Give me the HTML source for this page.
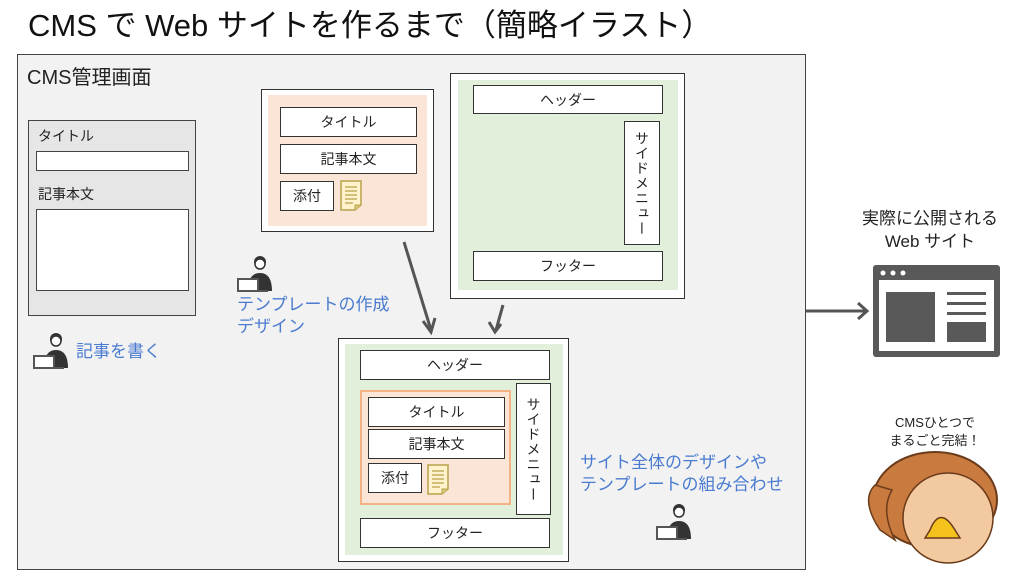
<!DOCTYPE html>
<html><head><meta charset="utf-8"><style>
*{margin:0;padding:0;box-sizing:border-box}
body{width:1022px;height:575px;background:#fff;position:relative;overflow:hidden;font-family:"Liberation Sans","Noto Sans CJK JP",sans-serif;color:#222}
.a{position:absolute}
.b{position:absolute;background:#fff;border:1.5px solid #333;display:flex;align-items:center;justify-content:center;font-size:14px}
.blue{color:#4a7bd0;font-size:17px;line-height:22px;position:absolute}
.v{writing-mode:vertical-rl;font-size:14px;letter-spacing:1px}
</style></head><body>
<div class="a" style="left:28px;top:6px;font-size:31px;line-height:40px;color:#111">CMS で Web サイトを作るまで（簡略イラスト）</div>
<div class="a" style="left:17px;top:54px;width:789px;height:516px;background:#f2f2f2;border:1.5px solid #444"></div>
<div class="a" style="left:27px;top:61px;font-size:20px">CMS管理画面</div>

<div class="a" style="left:28px;top:120px;width:168px;height:196px;background:#e6e6e6;border:1.5px solid #444"></div>
<div class="a" style="left:38px;top:126px;font-size:14px">タイトル</div>
<div class="a" style="left:36px;top:151px;width:153px;height:20px;background:#fff;border:1.5px solid #444"></div>
<div class="a" style="left:38px;top:184px;font-size:14px">記事本文</div>
<div class="a" style="left:36px;top:209px;width:153px;height:82px;background:#fff;border:1.5px solid #444"></div>

<!-- template -->
<div class="a" style="left:261px;top:89px;width:173px;height:143px;background:#fff;border:1.5px solid #333"></div>
<div class="a" style="left:268px;top:95px;width:159px;height:131px;background:#fbe5d6"></div>
<div class="b" style="left:280px;top:107px;width:137px;height:30px">タイトル</div>
<div class="b" style="left:280px;top:144px;width:137px;height:30px">記事本文</div>
<div class="b" style="left:280px;top:181px;width:54px;height:30px">添付</div>

<!-- layout -->
<div class="a" style="left:450px;top:73px;width:235px;height:226px;background:#fff;border:1.5px solid #333"></div>
<div class="a" style="left:458px;top:80px;width:220px;height:210px;background:#e2efda"></div>
<div class="b" style="left:473px;top:85px;width:190px;height:29px">ヘッダー</div>
<div class="b" style="left:624px;top:121px;width:36px;height:124px"><span class="v">サイドメニュー</span></div>
<div class="b" style="left:473px;top:251px;width:190px;height:30px">フッター</div>

<!-- combined -->
<div class="a" style="left:338px;top:338px;width:231px;height:224px;background:#fff;border:1.5px solid #333"></div>
<div class="a" style="left:345px;top:344px;width:218px;height:211px;background:#e2efda"></div>
<div class="b" style="left:360px;top:350px;width:190px;height:30px">ヘッダー</div>
<div class="a" style="left:360px;top:390px;width:151px;height:115px;background:#fbe5d6;border:2px solid #f4b183"></div>
<div class="b" style="left:368px;top:397px;width:137px;height:30px">タイトル</div>
<div class="b" style="left:368px;top:429px;width:137px;height:30px">記事本文</div>
<div class="b" style="left:368px;top:463px;width:54px;height:30px">添付</div>
<div class="b" style="left:516px;top:383px;width:35px;height:132px"><span class="v">サイドメニュー</span></div>
<div class="b" style="left:360px;top:518px;width:190px;height:30px">フッター</div>

<svg class="a" style="left:0;top:0" width="1022" height="575">
<defs>
<g id="doc"><path d="M0 0H20V24L14 29H0Z" fill="#fff2cc" stroke="#b8a24a" stroke-width="1.5"/><path d="M4 6H16M4 10H16M4 14H16M4 18H16M4 22H12" stroke="#b8a24a" stroke-width="1.3"/><path d="M14 29V24H20" fill="#d9c77a" stroke="#b8a24a"/></g>
<g id="pc"><circle cx="22" cy="7" r="6" fill="#333"/><circle cx="22" cy="9" r="5" fill="#fff" stroke="#333" stroke-width="1.5"/><path d="M10 36 Q10 18 22 18 Q34 18 34 36Z" fill="#333"/><path d="M0 24H20V36H0Z" fill="#fff" stroke="#555" stroke-width="2"/><path d="M0 36H30" stroke="#555" stroke-width="2"/></g>
</defs>
<use href="#doc" x="341" y="181"/>
<use href="#doc" x="428" y="465"/>
<use href="#pc" x="34" y="332"/>
<use href="#pc" x="238" y="255"/>
<use href="#pc" x="657" y="503"/>
<g stroke="#555" stroke-width="3" fill="none">
<path d="M404 242L431 330"/><path d="M423 321L431 332L435 318"/>
<path d="M503 305L496 330"/><path d="M489 322L495 332L501 324"/>
<path d="M806 311H866"/><path d="M858 303L867 311L858 319"/>
</g>
<rect x="873" y="265" width="127" height="92" rx="3" fill="#595959"/>
<rect x="879" y="280" width="115" height="71" fill="#fff"/>
<circle cx="883" cy="273" r="2.5" fill="#fff"/><circle cx="893" cy="273" r="2.5" fill="#fff"/><circle cx="903" cy="273" r="2.5" fill="#fff"/>
<rect x="886" y="292" width="49" height="50" fill="#595959"/>
<rect x="947" y="292" width="39" height="3" fill="#595959"/>
<rect x="947" y="302" width="39" height="3" fill="#595959"/>
<rect x="947" y="312" width="39" height="3" fill="#595959"/>
<rect x="947" y="322" width="39" height="20" fill="#595959"/>
<!-- mascot -->
<ellipse cx="935" cy="500" rx="62" ry="48" fill="#c97a3f" stroke="#6b3b1a" stroke-width="2"/>
<ellipse cx="948" cy="518" rx="45" ry="45" fill="#f3c9a0" stroke="#6b3b1a" stroke-width="1.5"/>
<path d="M875 485 Q860 500 880 530 L895 540 Q880 510 892 490Z" fill="#c97a3f" stroke="#6b3b1a" stroke-width="1.5"/>
<path d="M930 530 Q940 505 955 530 L960 538 H925Z" fill="#f4c21c" stroke="#6b3b1a" stroke-width="1.5"/>
</svg>

<div class="blue" style="left:76px;top:341px">記事を書く</div>
<div class="blue" style="left:237px;top:294px">テンプレートの作成<br>デザイン</div>
<div class="blue" style="left:580px;top:452px">サイト全体のデザインや<br>テンプレートの組み合わせ</div>
<div class="a" style="left:850px;top:207px;width:160px;text-align:center;font-size:17px;line-height:23px">実際に公開される<br>Web サイト</div>
<div class="a" style="left:860px;top:414px;width:150px;text-align:center;font-size:13px;line-height:18px">CMSひとつで<br>まるごと完結！</div>
</body></html>
